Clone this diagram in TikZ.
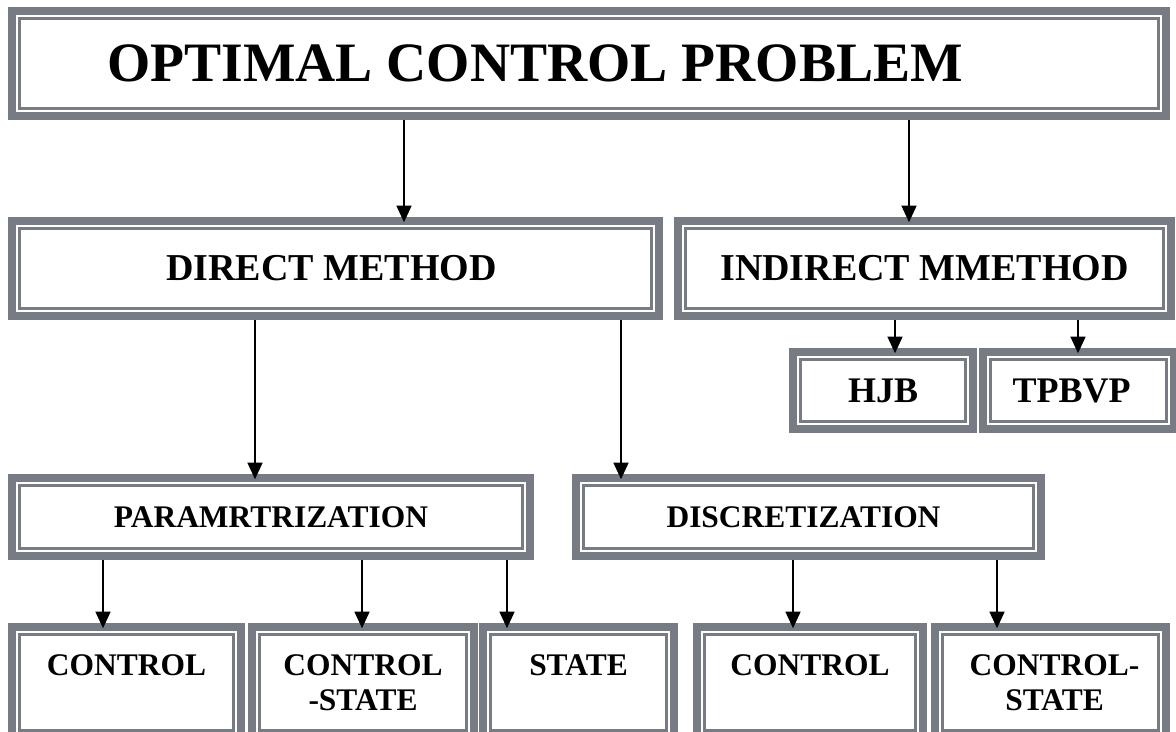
\documentclass[tikz,border=0pt]{standalone}
\usepackage{fontspec}
\setmainfont{Liberation Serif}
\usetikzlibrary{arrows.meta}
\definecolor{bgray}{RGB}{119,123,131}
\begin{document}
\begin{tikzpicture}[x=0.75pt,y=-0.75pt,
  obox/.style={draw=bgray, line width=6pt, fill=white, inner sep=0pt, align=center,
    path picture={\draw[bgray,line width=1.8pt]
      ([shift={(5.7pt,5.7pt)}]path picture bounding box.south west) rectangle
      ([shift={(-5.7pt,-5.7pt)}]path picture bounding box.north east);}},
  ftitle/.style={font=\fontsize{41.7pt}{50pt}\selectfont\bfseries},
  fmid/.style={font=\fontsize{28.5pt}{34pt}\selectfont\bfseries},
  fsmall/.style={font=\fontsize{27pt}{32pt}\selectfont\bfseries},
  fbot/.style={font=\fontsize{23.6pt}{26.25pt}\selectfont\bfseries},
  arr/.style={-{Triangle[length=12.5pt,width=11pt]}, line width=1.9pt, shorten >=-4pt}]
\useasboundingbox (0,0) rectangle (1176,731);

\node[obox,ftitle,minimum width=865.5pt,minimum height=78.75pt] (top) at (589,63.5) {\kern-81pt OPTIMAL CONTROL PROBLEM};

\node[obox,fmid,minimum width=485.25pt,minimum height=71.25pt] (direct) at (335.5,268.5) {\kern-6pt DIRECT METHOD};
\node[obox,fmid,minimum width=369.75pt,minimum height=71.25pt] (indirect) at (924.5,268.5) {INDIRECT MMETHOD};

\node[obox,fsmall,minimum width=135pt,minimum height=57.75pt] (hjb) at (883,390.5) {HJB};
\node[obox,fsmall,minimum width=143.25pt,minimum height=57.75pt] (tpbvp) at (1078.5,390.5) {\kern-10.5pt TPBVP};

\node[obox,fbot,minimum width=388.5pt,minimum height=58.5pt] (param) at (271,517) {PARAMRTRIZATION};
\node[obox,fbot,minimum width=348.75pt,minimum height=58.5pt] (discret) at (808.5,517) {\kern-7.5pt DISCRETIZATION};

\node[obox,fbot,minimum width=171.75pt,minimum height=83.25pt] (c1) at (126.5,682.5) {CONTROL\\\phantom{S}};
\node[obox,fbot,minimum width=166.5pt,minimum height=83.25pt] (cs1) at (363,682.5) {CONTROL\\-STATE};
\node[obox,fbot,minimum width=143.25pt,minimum height=83.25pt] (st) at (578.5,682.5) {STATE\\\phantom{S}};
\node[obox,fbot,minimum width=169.5pt,minimum height=83.25pt] (c2) at (810,682.5) {CONTROL\\\phantom{S}};
\node[obox,fbot,minimum width=173.25pt,minimum height=83.25pt] (cs2) at (1050.5,682.5) {CONTROL-\kern-6pt\\STATE\kern-6pt};

\draw[arr] (404,0 |- top.south) -- (404,0 |- direct.north);
\draw[arr] (909,0 |- top.south) -- (909,0 |- indirect.north);
\draw[arr] (255,0 |- direct.south) -- (255,0 |- param.north);
\draw[arr] (621,0 |- direct.south) -- (621,0 |- discret.north);
\draw[arr] (895,0 |- indirect.south) -- (895,0 |- hjb.north);
\draw[arr] (1078,0 |- indirect.south) -- (1078,0 |- tpbvp.north);
\draw[arr] (103,0 |- param.south) -- (103,0 |- c1.north);
\draw[arr] (362,0 |- param.south) -- (362,0 |- cs1.north);
\draw[arr] (507,0 |- param.south) -- (507,0 |- st.north);
\draw[arr] (793,0 |- discret.south) -- (793,0 |- c2.north);
\draw[arr] (997,0 |- discret.south) -- (997,0 |- cs2.north);
\end{tikzpicture}
\end{document}
